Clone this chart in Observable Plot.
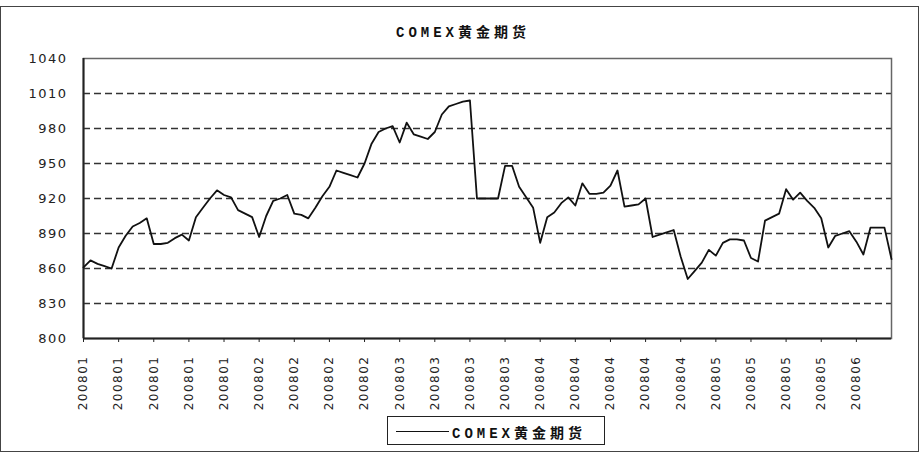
<!DOCTYPE html>
<html><head><meta charset="utf-8">
<script src="https://cdn.jsdelivr.net/npm/d3@7"></script>
<script src="https://cdn.jsdelivr.net/npm/@observablehq/plot@0.6"></script>
<style>
body{margin:0;background:#fff;}
#wrap{position:relative;width:922px;height:454px;overflow:hidden;background:#fff;}
#border{position:absolute;left:0;top:6px;width:917px;height:444px;border:1px solid #444;box-sizing:content-box;}
#title{position:absolute;top:21px;left:2px;width:922px;text-align:center;font-family:"Liberation Mono","Noto Sans CJK SC",monospace;font-size:14px;letter-spacing:4px;color:#111;font-weight:bold;}
#chart{position:absolute;top:45px;left:0;}
#legend{position:absolute;left:387px;top:416px;width:218px;height:29px;border:1px solid #222;box-sizing:border-box;font-family:"Liberation Mono","Noto Sans CJK SC",monospace;font-size:14px;letter-spacing:4px;color:#111;font-weight:bold;}
#legend .sw{position:absolute;left:8px;top:14px;width:53px;height:0;border-top:1.5px solid #111;}
#legend .lb{position:absolute;left:64px;top:5px;white-space:nowrap;}
</style>
</head><body>
<div id="wrap">
  <div id="border"></div>
  <div id="title">COMEX黄金期货</div>
  <div id="chart"></div>
  <div id="legend"><div class="sw"></div><div class="lb">COMEX黄金期货</div></div>
</div>
<script>
// COMEX gold futures, daily closes, Jan–Jun 2008
const prices = [
  861, 867, 864, 862, 860, 878, 888, 896, 899, 903,
  881, 881, 882, 886, 889, 884, 904, 912, 920, 927,
  923, 921, 910, 907, 904, 887, 905, 918, 920, 923,
  907, 906, 903, 912, 922, 930, 944, 942, 940, 938,
  950, 967, 977, 980, 982, 968, 985, 975, 973, 971,
  977, 992, 999, 1001, 1003, 1004, 920, 920, 920, 920,
  948, 948, 930, 921, 912, 882, 904, 908, 916, 921,
  914, 933, 924, 924, 925, 931, 944, 913, 914, 915,
  920, 887, 889, 891, 893, 870, 851, 858, 865, 876,
  871, 882, 885, 885, 884, 869, 866, 901, 904, 907,
  928, 919, 925, 918, 912, 903, 878, 888, 890, 892,
  883, 872, 895, 895, 895, 868
];
// category-axis labels (one every 5 trading days)
const xLabels = [
  "200801","200801","200801","200801","200801",
  "200802","200802","200802","200802",
  "200803","200803","200803","200803",
  "200804","200804","200804","200804","200804",
  "200805","200805","200805","200805",
  "200806"
];
const xTickIdx = xLabels.map((_, k) => k * 5);
const yTicks = [800, 830, 860, 890, 920, 950, 980, 1010, 1040];
const gridValues = [830, 860, 890, 920, 950, 980, 1010];

const data = prices.map((v, i) => ({i, v}));

const plot = Plot.plot({
  width: 922,
  height: 367,
  marginLeft: 83,
  marginRight: 31,
  marginTop: 13,
  marginBottom: 74,
  x: {domain: [0, prices.length - 1]},
  y: {domain: [800, 1040]},
  style: {fontFamily: "DejaVu Sans, sans-serif", fontSize: "12px", color: "#222", background: "transparent", overflow: "visible"},
  marks: [
    Plot.ruleY(gridValues, {stroke: "#333", strokeWidth: 1.3, strokeDasharray: "7,4"}),
    Plot.frame({stroke: "#666", strokeWidth: 1.5}),
    Plot.ruleX([0], {stroke: "#222", strokeWidth: 2}),
    Plot.ruleY([800], {stroke: "#222", strokeWidth: 2}),
    Plot.axisY({ticks: yTicks, tickSize: 0, tickPadding: 16, tickFormat: d => String(d), fontSize: 13, fill: "#222", label: null}),
    Plot.axisX({ticks: xTickIdx, tickFormat: d => xLabels[Math.round(d / 5)], tickRotate: -90, tickSize: 4, tickPadding: 13, fontSize: 12, fill: "#222", label: null}),
    Plot.lineY(data, {x: "i", y: "v", stroke: "#111", strokeWidth: 1.8})
  ]
});
plot.querySelectorAll("text").forEach(t => t.setAttribute("letter-spacing", "1.5"));
document.getElementById("chart").appendChild(plot);
</script>
</body></html>
